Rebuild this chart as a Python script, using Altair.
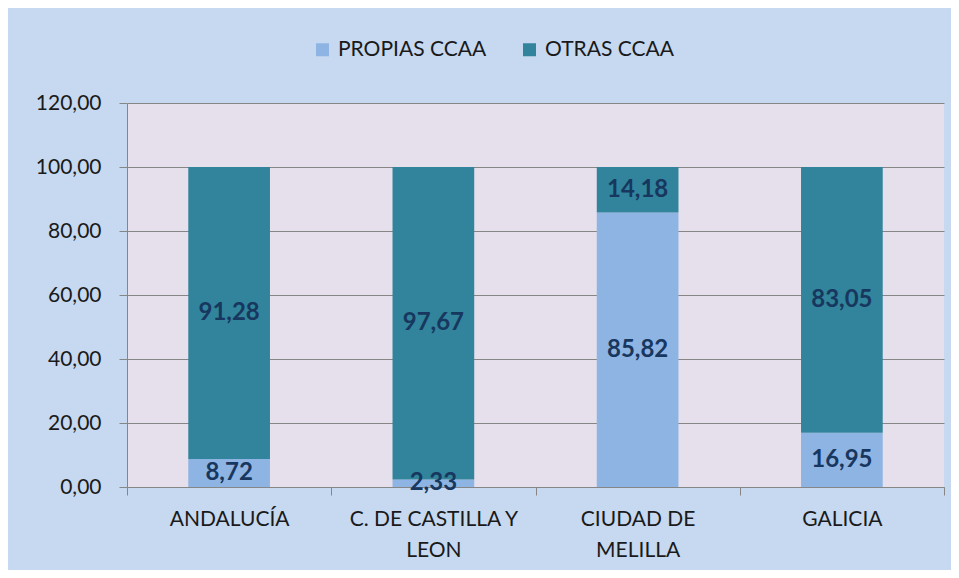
import altair as alt
import pandas as pd

categories = ["ANDALUCÍA", "C. DE CASTILLA Y LEON", "CIUDAD DE MELILLA", "GALICIA"]
label_lines = [["ANDALUCÍA"], ["C. DE CASTILLA Y", "LEON"], ["CIUDAD DE", "MELILLA"], ["GALICIA"]]
series = ["PROPIAS CCAA", "OTRAS CCAA"]
propias = [8.72, 2.33, 85.82, 16.95]
otras = [91.28, 97.67, 14.18, 83.05]
colors = ["#8eb4e3", "#31849b"]
y_ticks = [0, 20, 40, 60, 80, 100, 120]

rows = []
for i, c in enumerate(categories):
    rows.append({"cat": c, "serie": series[0], "value": propias[i], "ord": 0})
    rows.append({"cat": c, "serie": series[1], "value": otras[i], "ord": 1})
df = pd.DataFrame(rows)

# label expression for wrapped x labels
expr = "datum.value"
for c, lines in reversed(list(zip(categories, label_lines))):
    arr = "[" + ",".join("'" + s + "'" for s in lines) + "]"
    expr = f"datum.value === '{c}' ? {arr} : ({expr})"

FONT = "Lato"
TXT = "#1a1a1a"

base = alt.Chart(df).transform_stack(
    stack="value", groupby=["cat"], as_=["y0", "y1"],
    sort=[alt.SortField("ord", order="ascending")]
).transform_calculate(
    mid="(datum.y0 + datum.y1) / 2",
    lab="replace(format(datum.value, '.2f'), '.', ',')"
)

x_enc = alt.X(
    "cat:N", sort=categories, title=None,
    scale=alt.Scale(paddingInner=0, paddingOuter=0),
    axis=alt.Axis(
        labelAngle=0, tickBand="extent", tickSize=8, tickColor="#868686",
        domainColor="#868686", grid=False, labelExpr=expr,
        labelFont=FONT, labelFontSize=21, labelColor=TXT,
        labelLineHeight=31, labelPadding=13, labelBaseline="top",
    ),
)

bars = base.mark_bar(width=alt.RelativeBandSize(0.4)).encode(
    x=x_enc,
    y=alt.Y(
        "y0:Q", title=None,
        scale=alt.Scale(domain=[0, 120], nice=False, zero=True),
        axis=alt.Axis(
            values=y_ticks, grid=True, gridColor="#868686", gridWidth=1,
            tickSize=8, tickColor="#868686", domainColor="#868686",
            labelExpr="replace(format(datum.value, '.2f'), '.', ',')",
            labelFont=FONT, labelFontSize=21, labelColor=TXT,
            labelPadding=18,
        ),
    ),
    y2="y1:Q",
    color=alt.Color(
        "serie:N",
        scale=alt.Scale(domain=series, range=colors),
        legend=alt.Legend(
            title=None, orient="none", direction="horizontal",
            legendX=185, legendY=-64, symbolType="square", symbolSize=169,
            symbolStrokeWidth=0, labelFont=FONT, labelFontSize=21,
            labelColor=TXT, columnPadding=32, labelOffset=5,
        ),
    ),
    order=alt.Order("ord:Q"),
)

text = base.mark_text(
    font=FONT, fontSize=24, fontWeight="bold", color="#17375e", baseline="middle"
).encode(
    x=alt.X("cat:N", sort=categories),
    y=alt.Y("mid:Q"),
    text="lab:N",
)

chart = alt.layer(bars, text).properties(
    width=817, height=384,
    autosize=alt.AutoSizeParams(type="none"),
    padding={"left": 119, "top": 95, "right": 7, "bottom": 83},
    background="#c6d9f1",
).configure_view(fill="#e6e0ec", stroke=None)

chart.save("out.html", embed_options={"renderer": "svg", "actions": False})
